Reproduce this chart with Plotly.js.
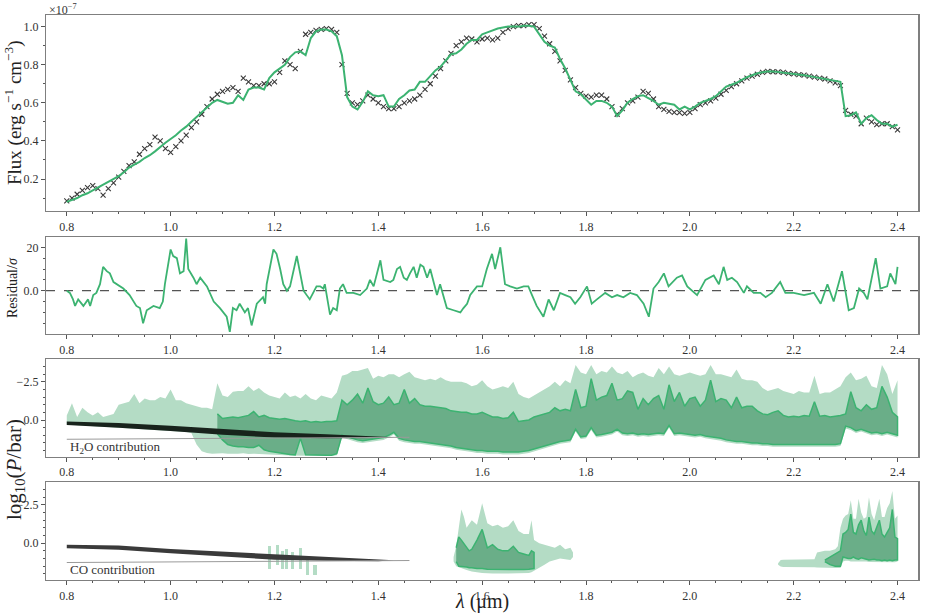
<!DOCTYPE html>
<html><head><meta charset="utf-8">
<script src="https://cdn.plot.ly/plotly-3.0.1.min.js"></script>
<style>html,body{margin:0;padding:0;background:#fff}</style>
</head><body><div id="chart" style="width:927px;height:616px"></div>
<script>
// ---------- DATA ----------
const wlStart = 0.80, wlStep = 0.01, wlCount = 161;
const fluxObs = [
0.085,0.10,0.12,0.14,0.155,0.165,0.15,0.115,0.15,0.18,
0.21,0.24,0.27,0.29,0.33,0.36,0.38,0.42,0.40,0.36,
0.34,0.37,0.40,0.43,0.47,0.50,0.54,0.58,0.62,0.645,
0.66,0.67,0.68,0.66,0.73,0.71,0.69,0.69,0.70,0.70,
0.71,0.76,0.82,0.80,0.78,0.87,0.96,0.97,0.98,0.985,
0.99,0.985,0.97,0.80,0.65,0.60,0.59,0.61,0.64,0.62,
0.60,0.58,0.57,0.57,0.58,0.60,0.61,0.62,0.64,0.67,
0.70,0.74,0.78,0.82,0.86,0.90,0.92,0.94,0.935,0.92,
0.935,0.94,0.93,0.94,0.97,0.99,1.0,1.005,1.005,1.01,
1.01,0.99,0.95,0.91,0.87,0.82,0.77,0.72,0.68,0.65,
0.635,0.63,0.64,0.64,0.62,0.58,0.54,0.57,0.60,0.61,
0.63,0.66,0.65,0.62,0.58,0.565,0.555,0.55,0.548,0.545,
0.55,0.57,0.59,0.60,0.61,0.625,0.645,0.665,0.685,0.70,
0.715,0.73,0.74,0.75,0.76,0.765,0.763,0.762,0.76,0.755,
0.752,0.748,0.745,0.74,0.735,0.73,0.725,0.715,0.705,0.69,
0.56,0.54,0.53,0.49,0.52,0.50,0.485,0.49,0.49,0.475,
0.458];
const fluxModel = [
0.08,0.09,0.10,0.115,0.125,0.14,0.155,0.17,0.185,0.20,
0.215,0.235,0.26,0.275,0.29,0.31,0.325,0.345,0.37,0.39,
0.41,0.43,0.455,0.475,0.50,0.525,0.55,0.575,0.60,0.615,
0.605,0.595,0.60,0.64,0.615,0.67,0.68,0.68,0.67,0.73,
0.76,0.78,0.80,0.84,0.865,0.87,0.85,0.94,0.975,0.985,
0.985,0.975,0.95,0.85,0.63,0.58,0.565,0.605,0.66,0.64,
0.635,0.64,0.58,0.58,0.62,0.64,0.665,0.67,0.71,0.71,
0.74,0.77,0.79,0.82,0.855,0.86,0.88,0.91,0.93,0.93,
0.96,0.97,0.98,0.99,0.995,1.0,1.0,1.0,1.005,1.005,
1.0,0.96,0.92,0.90,0.89,0.83,0.78,0.72,0.66,0.645,
0.62,0.59,0.61,0.61,0.60,0.58,0.53,0.56,0.60,0.62,
0.635,0.64,0.625,0.61,0.59,0.60,0.595,0.59,0.565,0.58,
0.565,0.58,0.60,0.61,0.62,0.635,0.66,0.685,0.695,0.705,
0.72,0.735,0.745,0.755,0.76,0.765,0.765,0.762,0.76,0.757,
0.753,0.748,0.745,0.74,0.735,0.73,0.725,0.72,0.715,0.71,
0.53,0.535,0.55,0.49,0.52,0.535,0.51,0.49,0.49,0.475,
0.485];

const resWl = [0.800,0.806,0.812,0.816,0.822,0.829,0.832,0.841,0.845,0.851,0.857,0.864,0.870,0.877,0.883,0.890,0.896,0.909,0.921,0.934,0.941,0.947,0.954,0.967,0.979,0.985,0.989,1.000,1.005,1.012,1.018,1.025,1.030,1.034,1.044,1.050,1.057,1.070,1.083,1.095,1.108,1.114,1.120,1.127,1.133,1.143,1.149,1.156,1.166,1.178,1.182,1.185,1.198,1.204,1.211,1.217,1.224,1.230,1.243,1.249,1.256,1.268,1.281,1.288,1.294,1.297,1.307,1.313,1.320,1.326,1.332,1.339,1.352,1.365,1.378,1.384,1.391,1.404,1.410,1.423,1.429,1.436,1.442,1.449,1.455,1.461,1.468,1.474,1.481,1.487,1.494,1.500,1.506,1.513,1.519,1.532,1.545,1.558,1.564,1.571,1.577,1.590,1.600,1.609,1.619,1.625,1.635,1.644,1.654,1.667,1.680,1.689,1.696,1.705,1.718,1.728,1.738,1.750,1.760,1.770,1.779,1.789,1.802,1.811,1.821,1.837,1.850,1.860,1.872,1.885,1.898,1.911,1.921,1.930,1.940,1.950,1.959,1.975,1.985,1.995,2.014,2.030,2.046,2.056,2.065,2.072,2.081,2.091,2.104,2.110,2.123,2.136,2.146,2.158,2.174,2.184,2.200,2.220,2.239,2.252,2.265,2.277,2.293,2.306,2.316,2.326,2.335,2.342,2.358,2.367,2.380,2.386,2.396,2.400];
const resVal = [0,-1,-4,-7,-4,-6,-7,-4,-7,-2,-1,3,11,9,8,4,3,1,-2,-7,-8,-15,-9,-7,-8,-5,3,19,16,15,8,9,24,10,6,3,6,2,-5,-8,-12,-19,-8,-9,-6,-10,-8,-16,-6,-3,-6,3,19,17,10,3,0,2,16,8,0,-4,2,2,1,3,-11,-8,-9,1,3,-1,-1,-2,1,5,2,14,5,4,5,10,11,6,5,8,11,6,12,11,6,10,5,-2,3,-8,-9,-10,-8,-6,-2,2,2,10,17,10,20,3,2,1,2,2,-2,-7,-12,-4,-9,-1,-2,-3,-6,-3,2,-6,-4,-1,-3,-2,-3,-1,-2,-6,-12,1,4,8,2,6,7,2,-2,5,7,3,11,5,6,4,-1,2,-1,-1,-3,-1,4,-1,-1,-2,-1,-6,3,-5,9,-9,-8,1,-1,-4,15,1,2,8,3,11];

// H2O contribution bands (log10 P/bar), light = outer, dark = inner; dark starts at 1.09
const h2oLightTop = [
-0.3,-1.1,-0.2,-0.8,-0.5,-0.3,-0.5,-0.2,-0.3,-0.4,
-1.0,-1.1,-1.2,-1.7,-1.1,-1.4,-1.3,-1.3,-1.5,-1.4,
-2.0,-1.3,-1.3,-1.1,-1.0,-0.9,-0.8,-0.8,-0.7,-2.4,
-1.6,-1.5,-1.85,-1.9,-1.9,-2.2,-1.9,-2.1,-1.8,-1.6,
-1.5,-1.4,-1.8,-1.5,-1.6,-1.4,-1.7,-1.4,-1.3,-1.6,
-1.5,-1.4,-1.8,-2.9,-3.0,-3.2,-3.2,-3.3,-3.4,-2.7,
-2.9,-2.8,-3.0,-3.0,-2.8,-3.0,-3.15,-2.8,-2.7,-2.6,
-2.7,-2.6,-2.8,-2.6,-2.5,-2.5,-2.5,-2.4,-2.2,-2.3,
-2.6,-2.2,-2.0,-2.1,-2.2,-2.1,-2.5,-1.7,-1.5,-1.4,
-1.6,-1.8,-2.0,-2.2,-2.5,-2.2,-2.6,-2.4,-3.6,-3.1,
-3.0,-3.6,-3.0,-3.2,-3.1,-3.5,-3.1,-3.0,-3.2,-2.8,
-3.0,-3.1,-2.9,-2.8,-3.4,-3.0,-3.5,-3.0,-2.9,-3.0,
-3.1,-3.0,-2.9,-3.0,-3.6,-3.0,-3.0,-2.9,-2.8,-3.3,
-2.7,-2.6,-2.6,-2.5,-2.1,-1.9,-2.0,-2.1,-1.9,-1.8,
-1.7,-1.9,-1.8,-1.8,-2.9,-1.7,-1.8,-1.8,-2.0,-2.2,
-2.8,-3.1,-2.6,-2.7,-2.9,-2.2,-2.1,-3.6,-3.0,-1.7,
-2.6];
const h2oLightBot = [
0.30,0.32,0.35,0.38,0.40,0.42,0.45,0.48,0.50,0.52,
0.55,0.57,0.58,0.60,0.62,0.63,0.65,0.67,0.68,0.70,
0.72,0.74,0.76,0.78,0.85,1.60,2.05,2.15,2.20,2.20,
2.18,2.20,2.22,2.20,2.18,2.22,2.20,2.18,2.22,2.25,
2.25,2.28,2.30,2.32,2.35,2.35,2.35,2.35,2.35,2.35,
2.35,2.35,2.30,1.15,1.25,1.35,1.45,1.50,1.45,1.40,
1.35,1.30,1.15,0.95,1.35,1.45,1.50,1.55,1.55,1.60,
1.65,1.70,1.75,1.80,1.85,1.95,2.00,2.05,2.10,2.15,
2.15,2.20,2.20,2.20,2.25,2.25,2.25,2.25,2.20,2.15,
2.10,2.00,1.85,1.75,1.65,1.55,1.50,1.45,0.75,1.25,
1.20,0.65,1.15,1.10,1.05,0.95,0.75,1.00,1.05,1.00,
1.10,1.05,1.10,1.05,1.00,1.05,0.50,1.05,1.00,1.05,
1.10,1.15,1.10,1.20,1.25,1.30,1.35,1.45,1.50,1.55,
1.55,1.60,1.65,1.65,1.70,1.70,1.75,1.75,1.75,1.77,
1.78,1.78,1.78,1.78,1.77,1.77,1.77,1.75,1.75,1.70,
0.55,0.65,0.85,0.75,0.85,1.00,0.95,1.05,0.95,1.05,
1.15];
const h2oDarkStart = 1.09;
const h2oDarkTop = [
-0.4,-0.1,-0.15,-0.2,-0.15,-0.2,-0.3,-0.55,-0.2,-0.3,
-0.15,-0.1,-0.05,-0.1,0.0,0.05,0.1,0.05,0.15,0.1,
0.15,0.1,0.1,0.05,-1.3,-1.0,-1.3,-1.7,-1.1,-2.1,
-1.2,-1.0,-1.1,-1.5,-1.0,-1.1,-2.0,-1.1,-1.4,-1.0,
-0.9,-0.9,-0.85,-0.8,-0.75,-0.6,-0.55,-0.5,-0.5,-0.4,
-0.4,-0.5,-0.35,-0.2,-0.2,-0.1,-0.15,-0.5,0.1,0.05,
0.0,-0.2,-0.3,-0.4,-0.5,-0.8,-0.6,-0.7,-0.6,-2.0,
-0.8,-0.9,-2.7,-1.3,-1.5,-1.6,-2.4,-1.3,-1.4,-1.9,
-1.8,-0.7,-1.4,-1.0,-1.4,-1.6,-0.7,-2.3,-1.2,-1.8,
-0.9,-1.4,-1.5,-0.9,-1.3,-2.6,-1.2,-1.4,-1.3,-0.8,
-1.5,-0.8,-0.9,-0.9,-0.6,-0.4,-0.35,-0.5,-0.6,-0.3,
-0.2,-0.25,-0.2,-0.3,-0.25,-1.2,-0.25,-0.3,-0.2,-0.25,
-0.3,-0.4,-1.85,-0.8,-0.6,-1.0,-0.7,-0.8,-2.2,-1.5,
-0.5,-0.2];
const h2oDarkBot = [
0.9,1.3,1.6,1.7,1.75,1.75,1.8,1.8,1.65,1.95,
2.05,2.1,2.15,2.2,2.25,2.28,1.2,2.28,2.3,2.3,
2.3,2.3,2.3,2.2,1.0,1.1,1.2,1.3,1.35,1.3,
1.25,1.2,1.15,1.0,0.8,1.2,1.3,1.35,1.4,1.4,
1.45,1.5,1.55,1.6,1.65,1.7,1.8,1.85,1.9,1.95,
2.0,2.0,2.05,2.05,2.05,2.1,2.1,2.1,2.1,2.05,
2.0,1.95,1.85,1.7,1.6,1.5,1.4,1.35,1.3,0.6,
1.1,1.05,0.5,1.0,0.95,0.9,0.8,0.6,0.85,0.9,
0.85,0.95,0.9,0.95,0.9,0.85,0.9,0.35,0.9,0.85,
0.9,0.95,1.0,0.95,1.05,1.1,1.15,1.2,1.3,1.35,
1.4,1.4,1.45,1.5,1.5,1.55,1.55,1.6,1.6,1.6,
1.62,1.63,1.63,1.63,1.63,1.62,1.62,1.62,1.6,1.6,
1.55,0.4,0.5,0.7,0.6,0.7,0.85,0.8,0.9,0.8,
0.9,1.0];

// CO contribution bands
const coBlobWl  = [1.190,1.205,1.215,1.224,1.235,1.250,1.263,1.278];
const coBlobTop = [0.2,0.1,0.5,0.4,0.6,0.3,0.9,1.4];
const coBlobBot = [1.7,1.4,1.7,1.7,1.7,1.7,2.1,2.1];

const coAWl = [1.545,1.55,1.555,1.56,1.565,1.57,1.58,1.59,1.60,1.61,1.62,1.63,1.64,1.65,1.66,1.67,1.68,1.69,1.695,1.70,1.71,1.72,1.73,1.74,1.75,1.76,1.77,1.775];
const coALightTop = [0.9,0.2,-1.0,-2.2,-1.7,-1.0,-1.5,-1.2,-2.6,-1.3,-1.1,-1.2,-1.0,-1.1,-1.5,-0.8,-0.6,-0.6,-1.5,-0.2,0.0,0.1,0.2,0.3,0.1,0.4,0.3,0.6];
const coALightBot = [1.2,1.5,1.6,1.65,1.7,1.75,1.85,1.9,1.95,1.97,1.97,1.98,1.98,1.98,1.98,1.97,1.96,1.95,1.9,1.85,1.6,1.4,1.2,1.1,1.0,1.05,1.1,0.9];
const coADarkWl = [1.55,1.555,1.56,1.57,1.575,1.58,1.59,1.60,1.61,1.62,1.63,1.64,1.65,1.66,1.67,1.68,1.69,1.695,1.70];
const coADarkTop = [0.3,-0.4,-0.2,0.3,0.5,0.4,-0.2,-0.9,0.3,0.1,0.4,0.5,0.5,0.2,0.6,0.7,0.8,0.5,0.6];
const coADarkBot = [1.2,1.5,1.5,1.55,1.6,1.6,1.65,1.65,1.7,1.7,1.72,1.72,1.73,1.73,1.72,1.72,1.7,1.7,1.65];

const coBWl = [2.17,2.175,2.18,2.19,2.20,2.21,2.22,2.23,2.24,2.245,2.25,2.26,2.27,2.28,2.285,2.29,2.295,2.30,2.305,2.31,2.315,2.32,2.325,2.33,2.335,2.34,2.345,2.35,2.355,2.36,2.365,2.37,2.375,2.38,2.385,2.39,2.395,2.40];
const coBLightTop = [1.3,1.1,1.08,1.08,1.08,1.08,1.08,1.08,1.05,0.6,0.55,0.5,0.5,0.4,0.2,-1.0,-1.6,-1.8,-1.9,-2.8,-1.6,-1.6,-2.9,-2.0,-1.6,-1.7,-3.0,-1.9,-1.5,-2.3,-2.9,-1.7,-1.7,-2.3,-2.6,-3.4,-1.6,-1.8];
const coBLightBot = [1.4,1.52,1.55,1.55,1.55,1.55,1.56,1.57,1.57,1.58,1.6,1.62,1.62,1.62,1.62,1.62,1.2,1.15,1.15,1.2,1.2,1.2,1.2,1.2,1.2,1.2,1.22,1.22,1.22,1.22,1.22,1.22,1.25,1.25,1.25,1.25,1.25,1.2];
const coBDarkWl = [2.26,2.27,2.28,2.29,2.295,2.30,2.305,2.31,2.315,2.32,2.325,2.33,2.335,2.34,2.345,2.35,2.355,2.36,2.365,2.37,2.375,2.38,2.385,2.39,2.395,2.40];
const coBDarkTop = [1.1,0.9,0.7,0.5,-0.6,-0.7,-0.9,-1.9,-0.7,-0.6,-1.2,-1.5,-0.8,-0.5,-1.7,-0.8,-0.6,-1.0,-1.5,-0.6,-0.4,-0.7,-1.0,-2.2,-0.4,-0.3];
const coBDarkBot = [1.2,1.4,1.5,1.5,0.9,0.95,1.0,1.0,0.9,1.0,1.05,0.95,1.0,1.05,1.1,1.1,1.05,1.1,1.1,1.15,1.1,1.15,1.1,1.15,1.1,1.1];

// contribution wedges
const wedgeWl = [0.80,0.90,1.00,1.10,1.20,1.30,1.40,1.43];
const h2oWedgeTop = [0.10,0.20,0.38,0.60,0.80,0.93,1.06,1.13];
const h2oWedgeBot = [0.33,0.50,0.72,0.97,1.15,1.20,1.18,1.13];
const coWedgeTop  = [0.10,0.15,0.38,0.55,0.72,0.90,1.05,1.12];
const coWedgeBot  = [0.33,0.42,0.65,0.88,1.08,1.15,1.17,1.12];
const baseLineWl = [0.80,1.46];
const baseLineV  = [1.26,1.13];

const xTicks = [0.8,1.0,1.2,1.4,1.6,1.8,2.0,2.2,2.4];

// ---------- BUILD ----------
const wl = Array.from({length: wlCount}, (_, i) => +(wlStart + wlStep * i).toFixed(2));
const darkWl = Array.from({length: h2oDarkTop.length}, (_, i) => +(h2oDarkStart + wlStep * i).toFixed(2));
function poly(x, top, bot) {
  return { x: x.concat(x.slice().reverse()), y: top.concat(bot.slice().reverse()) };
}
const GREEN = '#3cb371', LIGHT = '#b4dcc5', DARK = '#6aae88';
const traces = [];

traces.push({x: wl, y: fluxObs, xaxis:'x', yaxis:'y', type:'scatter', mode:'markers',
  marker:{symbol:'x-thin', size:5, line:{width:1.1, color:'#3a3a3a'}, color:'#3a3a3a'}});
traces.push({x: wl, y: fluxModel, xaxis:'x', yaxis:'y', type:'scatter', mode:'lines',
  line:{color:GREEN, width:2}});

traces.push({x: [0.76, 2.44], y: [0, 0], xaxis:'x2', yaxis:'y2', mode:'lines',
  line:{color:'#555', width:1.3, dash:'dash'}});
traces.push({x: resWl, y: resVal, xaxis:'x2', yaxis:'y2', mode:'lines',
  line:{color:GREEN, width:1.8}});

function addBand(x, top, bot, color, ax, ay, withLine) {
  const p = poly(x, top, bot);
  traces.push({x: p.x, y: p.y, xaxis: ax, yaxis: ay, mode:'lines', fill:'toself',
    fillcolor: color, line: withLine ? {color: GREEN, width: 1.5} : {width: 0, color: color}});
}
// H2O panel
addBand(wl, h2oLightTop, h2oLightBot, LIGHT, 'x3', 'y3', false);
addBand(darkWl, h2oDarkTop, h2oDarkBot, DARK, 'x3', 'y3', true);
addBand(wedgeWl, h2oWedgeTop, h2oWedgeBot, '#18231c', 'x3', 'y3', false);
traces.push({x: baseLineWl, y: baseLineV, xaxis:'x3', yaxis:'y3', mode:'lines', line:{color:'#9a9a9a', width:1}});
// CO panel
traces.push({type:'bar', x: coBlobWl, base: coBlobTop, y: coBlobBot.map((b, i) => b - coBlobTop[i]),
  width: 0.006, xaxis:'x4', yaxis:'y4', marker:{color: LIGHT, line:{width:0}}});
addBand(coAWl, coALightTop, coALightBot, LIGHT, 'x4', 'y4', false);
addBand(coADarkWl, coADarkTop, coADarkBot, DARK, 'x4', 'y4', true);
addBand(coBWl, coBLightTop, coBLightBot, LIGHT, 'x4', 'y4', false);
addBand(coBDarkWl, coBDarkTop, coBDarkBot, DARK, 'x4', 'y4', true);
addBand(wedgeWl, coWedgeTop, coWedgeBot, '#3a3a3a', 'x4', 'y4', false);
traces.push({x: baseLineWl, y: baseLineV, xaxis:'x4', yaxis:'y4', mode:'lines', line:{color:'#9a9a9a', width:1}});

const W = 927, H = 616;
const xDom = [46 / W, 918.3 / W];
function xAxis(anchor) {
  return {domain: xDom, anchor: anchor, range: [0.76, 2.44], showline: true, mirror: true,
    linecolor: '#7f7f7f', linewidth: 1.2, ticks: 'outside', ticklen: 4, tickcolor: '#555',
    tickvals: xTicks, ticktext: xTicks.map(v => v.toFixed(1)),
    minor: {tick0: 0.8, dtick: 0.05, ticks: 'outside', ticklen: 2, tickcolor: '#555'},
    showgrid: false, zeroline: false, tickfont: {size: 12, color: '#333'}};
}
function yAxis(anchor, dom, range, tickvals, minorDtick) {
  return {domain: [1 - dom[1] / H, 1 - dom[0] / H], anchor: anchor, range: range,
    showline: true, mirror: true, linecolor: '#7f7f7f', linewidth: 1.2, ticks: 'outside',
    ticklen: 4, tickcolor: '#555', tickvals: tickvals,
    ticktext: tickvals.map(v => Number.isInteger(v) && Math.abs(v) >= 10 ? String(v).replace('-', '\u2212') : v.toFixed(1).replace('-', '\u2212')),
    minor: {dtick: minorDtick, ticks: 'outside', ticklen: 2, tickcolor: '#555'},
    showgrid: false, zeroline: false, tickfont: {size: 12, color: '#333'}};
}
const FONT = 'Liberation Serif, DejaVu Serif, serif';
const layout = {
  width: W, height: H, margin: {l: 0, r: 0, t: 0, b: 0},
  paper_bgcolor: '#fff', plot_bgcolor: '#fff', showlegend: false,
  font: {family: FONT, size: 12, color: '#333'},
  bargap: 0,
  xaxis: xAxis('y'), xaxis2: xAxis('y2'), xaxis3: xAxis('y3'), xaxis4: xAxis('y4'),
  yaxis: yAxis('x', [15, 211], [0.032, 1.061], [0.2, 0.4, 0.6, 0.8, 1.0], 0.1),
  yaxis2: yAxis('x2', [236.7, 334], [-19.95, 24.9], [-20, 0, 20], 5),
  yaxis3: yAxis('x3', [359.3, 456.7], [2.40, -3.97], [-2.5, 0.0], 0.5),
  yaxis4: yAxis('x4', [482.3, 580], [2.40, -3.97], [-2.5, 0.0], 0.5),
  annotations: [
    {xref:'paper', yref:'paper', x: 47 / W, y: 1 - 9 / H, text: '\u00d710<sup>\u22127</sup>',
      showarrow: false, xanchor: 'left', yanchor: 'middle', font: {size: 12, color: '#333'}},
    {xref:'paper', yref:'paper', x: 14 / W, y: 1 - 113 / H, text: 'Flux (erg s<sup>\u22121</sup> cm<sup>\u22123</sup>)',
      textangle: -90, showarrow: false, xanchor: 'center', yanchor: 'middle', font: {size: 19, color: '#222'}},
    {xref:'paper', yref:'paper', x: 13 / W, y: 1 - 288 / H, text: 'Residual/<i>σ</i>',
      textangle: -90, showarrow: false, xanchor: 'center', yanchor: 'middle', font: {size: 14, color: '#222'}},
    {xref:'paper', yref:'paper', x: 15 / W, y: 1 - 470 / H, text: 'log<sub>10</sub>(<i>P</i>/bar)',
      textangle: -90, showarrow: false, xanchor: 'center', yanchor: 'middle', font: {size: 21, color: '#222'}},
    {xref:'paper', yref:'paper', x: 482 / W, y: 1 - 601 / H, text: '<i>λ</i> (\u03bcm)',
      showarrow: false, xanchor: 'center', yanchor: 'middle', font: {size: 20, color: '#222'}},
    {xref:'x3', yref:'y3', x: 0.803, y: 1.78, text: 'H<sub>2</sub>O contribution',
      showarrow: false, xanchor: 'left', yanchor: 'middle', font: {size: 13, color: '#333'}},
    {xref:'x4', yref:'y4', x: 0.803, y: 1.70, text: 'CO contribution',
      showarrow: false, xanchor: 'left', yanchor: 'middle', font: {size: 13, color: '#333'}}
  ]
};
Plotly.newPlot('chart', traces, layout, {displayModeBar: false, staticPlot: true});
</script></body></html>
